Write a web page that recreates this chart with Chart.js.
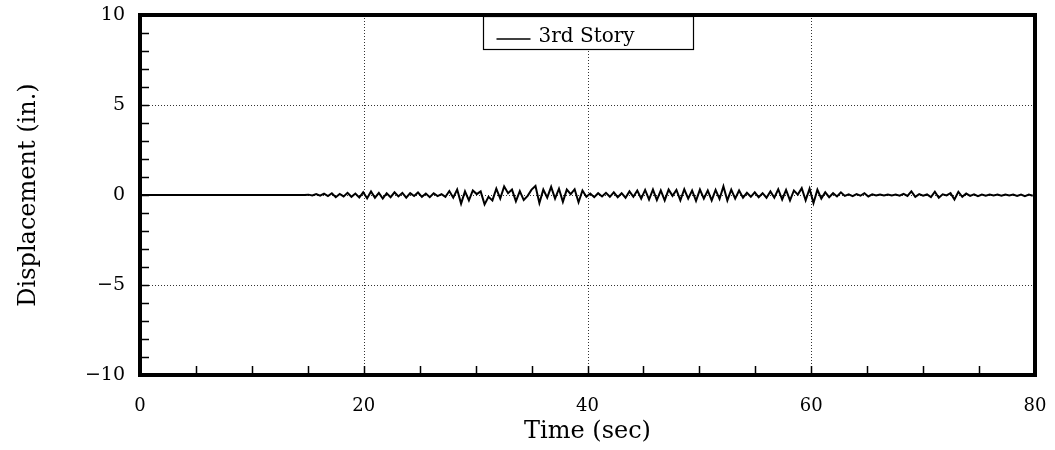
<!DOCTYPE html>
<html>
<head>
<meta charset="utf-8">
<title>3rd Story displacement</title>
<script src="https://cdn.jsdelivr.net/npm/chart.js@4.4.1/dist/chart.umd.min.js"></script>
<style>
  html, body { margin: 0; padding: 0; background: #fff; }
  #wrap { width: 1055px; height: 450px; }
</style>
</head>
<body>
<div id="wrap"><canvas id="dispChart"></canvas></div>
<script>
{
  'use strict';

  /* Data */
  const seriesLabel = '3rd Story';
  const sampleStart = 14.7;   // sec, first sample after the quiet lead-in
  const sampleStep = 0.35;    // sec between samples
  const leadIn = [0, 0];      // [time, displacement] at the start of the record

  // displacement (in.), one row per 10 samples
  const displacement = [
    0, 0.02, -0.03, 0.05, -0.04, 0.08, -0.06, 0.1, -0.12, 0.06,
    -0.08, 0.12, -0.1, 0.08, -0.14, 0.15, -0.18, 0.2, -0.15, 0.12,
    -0.2, 0.1, -0.12, 0.15, -0.08, 0.12, -0.15, 0.1, -0.06, 0.14,
    -0.1, 0.08, -0.12, 0.1, -0.06, 0.05, -0.1, 0.22, -0.15, 0.3,
    -0.48, 0.2, -0.3, 0.25, 0.05, 0.2, -0.52, -0.1, -0.3, 0.35,
    -0.2, 0.48, 0.1, 0.3, -0.35, 0.22, -0.28, -0.05, 0.3, 0.5,
    -0.45, 0.3, -0.15, 0.45, -0.2, 0.35, -0.38, 0.3, 0.05, 0.32,
    -0.4, 0.25, -0.1, 0.08, -0.12, 0.1, -0.08, 0.12, -0.1, 0.15,
    -0.12, 0.1, -0.15, 0.2, -0.1, 0.25, -0.2, 0.28, -0.25, 0.3,
    -0.28, 0.25, -0.3, 0.3, -0.05, 0.28, -0.3, 0.32, -0.2, 0.25,
    -0.32, 0.3, -0.2, 0.25, -0.3, 0.28, -0.22, 0.48, -0.3, 0.3,
    -0.2, 0.25, -0.15, 0.12, -0.1, 0.15, -0.12, 0.1, -0.15, 0.2,
    -0.15, 0.32, -0.25, 0.28, -0.3, 0.25, 0.02, 0.38, -0.3, 0.35,
    -0.45, 0.3, -0.2, 0.15, -0.12, 0.1, -0.08, 0.15, -0.05, 0.04,
    -0.06, 0.05, -0.04, 0.1, -0.08, 0.04, -0.03, 0.02, -0.02, 0.03,
    -0.03, 0.02, -0.04, 0.06, -0.05, 0.2, -0.1, 0.05, -0.04, 0.03,
    -0.12, 0.18, -0.15, 0.04, -0.02, 0.1, -0.25, 0.18, -0.1, 0.08,
    -0.05, 0.04, -0.06, 0.03, -0.04, 0.02, -0.03, 0.02, -0.04, 0.03,
    -0.03, 0.02, -0.05, 0.03, -0.06, 0.02, -0.04
  ];

  const timeTicks = [0, 20, 40, 60, 80];
  const dispTicks = [-10, -5, 0, 5, 10];
  const timeMinorStep = 5;
  const dispMinorStep = 1;

  const serif = 'DejaVu Serif';

  function buildPoints() {
    const points = [{ x: leadIn[0], y: leadIn[1] }];
    displacement.forEach(function (d, i) {
      points.push({ x: +(sampleStart + i * sampleStep).toFixed(2), y: d });
    });
    return points;
  }

  /* Dotted grid at the labelled ticks */
  const dottedGridPlugin = {
    id: 'dottedGrid',
    beforeDatasetsDraw(chart) {
      const { ctx, chartArea: a, scales } = chart;
      ctx.save();
      ctx.strokeStyle = '#333';
      ctx.lineWidth = 1;
      ctx.setLineDash([1, 2]);
      ctx.beginPath();
      scales.x.ticks.forEach(function (t) {
        const px = Math.round(scales.x.getPixelForValue(t.value)) + 0.5;
        ctx.moveTo(px, a.top);
        ctx.lineTo(px, a.bottom);
      });
      scales.y.ticks.forEach(function (t) {
        const py = Math.round(scales.y.getPixelForValue(t.value)) + 0.5;
        ctx.moveTo(a.left, py);
        ctx.lineTo(a.right, py);
      });
      ctx.stroke();
      ctx.restore();
    }
  };

  /* Thick frame with inward minor ticks */
  const framePlugin = {
    id: 'frame',
    afterDatasetsDraw(chart) {
      const { ctx, chartArea: a, scales } = chart;
      ctx.save();
      ctx.strokeStyle = '#000';

      ctx.lineWidth = 1.5;
      ctx.beginPath();
      for (let v = scales.y.min; v <= scales.y.max; v += dispMinorStep) {
        const py = Math.round(scales.y.getPixelForValue(v)) + 0.5;
        ctx.moveTo(a.left, py);
        ctx.lineTo(a.left + 9, py);
      }
      for (let v = scales.x.min; v <= scales.x.max; v += timeMinorStep) {
        const px = Math.round(scales.x.getPixelForValue(v)) + 0.5;
        ctx.moveTo(px, a.bottom);
        ctx.lineTo(px, a.bottom - 9);
      }
      ctx.stroke();

      ctx.lineWidth = 4;
      ctx.strokeRect(a.left, a.top, a.right - a.left, a.bottom - a.top);
      ctx.restore();
    }
  };

  /* Boxed legend sitting on the top edge */
  const boxLegendPlugin = {
    id: 'boxLegend',
    afterDatasetsDraw(chart) {
      const { ctx, chartArea: a } = chart;
      const ds = chart.data.datasets[0];
      const w = 210, h = 33;
      const left = Math.round((a.left + a.right) / 2 - w / 2) + 0.5;
      const top = a.top + 1.5;
      ctx.save();
      ctx.fillStyle = '#fff';
      ctx.fillRect(left, top, w, h);
      ctx.strokeStyle = '#000';
      ctx.lineWidth = 1.2;
      ctx.strokeRect(left, top, w, h);

      ctx.lineWidth = 1.5;
      ctx.strokeStyle = ds.borderColor;
      ctx.beginPath();
      ctx.moveTo(left + 13, top + 22.5);
      ctx.lineTo(left + 47, top + 22.5);
      ctx.stroke();

      ctx.fillStyle = '#000';
      ctx.font = '20px "' + serif + '"';
      ctx.textBaseline = 'middle';
      ctx.textAlign = 'left';
      ctx.fillText(ds.label, left + 55, top + 20);
      ctx.restore();
    }
  };

  // invisible tick marks keep the labels off the frame without
  // adding to the label overhang the layout reserves
  const hiddenTicks = function (len) {
    return {
      display: true,
      drawOnChartArea: false,
      drawTicks: true,
      tickLength: len,
      tickColor: 'rgba(0,0,0,0)',
      color: 'rgba(0,0,0,0)'
    };
  };

  function initChart() {
    const ctx = document.getElementById('dispChart').getContext('2d');
    Chart.defaults.font.family = serif;
    Chart.defaults.color = '#000';

    // eslint-disable-next-line no-undef
    const dispChart = new Chart(ctx, {
      type: 'line',
      data: {
        datasets: [{
          label: seriesLabel,
          data: buildPoints(),
          borderColor: '#000',
          borderWidth: 2,
          pointRadius: 0,
          tension: 0,
          fill: false
        }]
      },
      options: {
        responsive: true,
        maintainAspectRatio: false,
        animation: false,
        events: [],
        layout: { padding: { left: 10, right: 20, top: 15, bottom: 0 } },
        plugins: {
          legend: { display: false },
          tooltip: { enabled: false }
        },
        scales: {
          x: {
            type: 'linear',
            min: 0,
            max: 80,
            afterBuildTicks(scale) {
              scale.ticks = timeTicks.map(function (v) { return { value: v }; });
            },
            afterFit(scale) { scale.height = 75; },
            border: { display: false },
            grid: hiddenTicks(21),
            ticks: {
              padding: 0,
              maxRotation: 0,
              font: { size: 18 }
            },
            title: {
              display: true,
              text: 'Time (sec)',
              font: { size: 24 }
            }
          },
          y: {
            min: -10,
            max: 10,
            afterBuildTicks(scale) {
              scale.ticks = dispTicks.map(function (v) { return { value: v }; });
            },
            afterFit(scale) { scale.width = 130; },
            border: { display: false },
            grid: hiddenTicks(15),
            ticks: {
              padding: 0,
              font: { size: 19 },
              callback: function (value) {
                return String(value).replace('-', '\u2212');
              }
            },
            title: {
              display: true,
              text: 'Displacement (in.)',
              font: { size: 24 }
            }
          }
        }
      },
      plugins: [dottedGridPlugin, framePlugin, boxLegendPlugin]
    });
    return dispChart;
  }

  initChart();
}
</script>
</body>
</html>
